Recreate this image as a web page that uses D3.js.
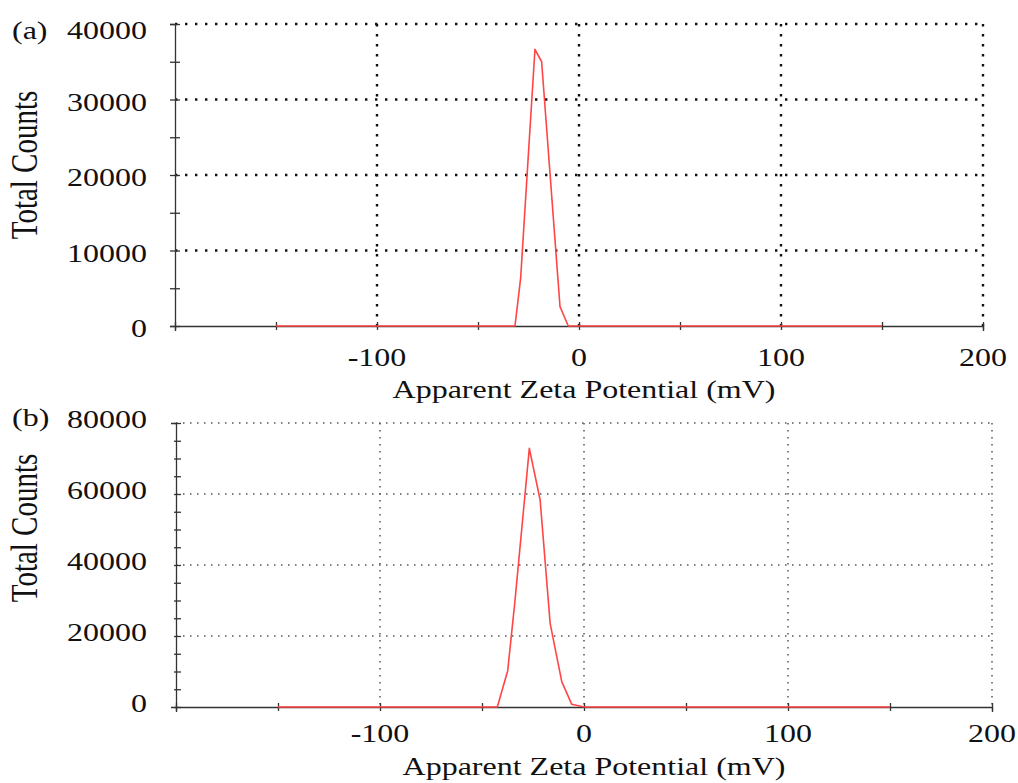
<!DOCTYPE html>
<html lang="en">
<head>
	<meta charset="UTF-8">
	<title>Zeta potential</title>
	<script src="https://d3js.org/d3.v7.min.js"></script>
	<style>
		body { margin: 0; background: #fff; }
		text { font-family: "Liberation Serif", "Times New Roman", serif; fill: #111; }
	</style>
</head>
<body>
	<div class="box"></div>

	<script type="text/javascript">
		// data
		let panelLabels = ['(a)', '(b)']
		let zetaA = [-150, -31.7, -28.9, -21.8, -18.5, -9.4, -5.3, 150]
		let countsA = [0, 0, 6300, 36650, 35000, 2560, 0, 0]
		let zetaB = [-150, -42.5, -37.4, -33.8, -26.8, -21.5, -16.6, -10.9, -6.0, 0, 150]
		let countsB = [0, 0, 10230, 30100, 72870, 58300, 23580, 7130, 760, 0, 0]
		let xTickValues = [-200, -150, -100, -50, 0, 50, 100, 150, 200]
		let xTickLabels = [-100, 0, 100, 200]
		let yTicksA = [0, 10000, 20000, 30000, 40000]
		let yTicksB = [0, 20000, 40000, 60000, 80000]
		let xTitle = 'Apparent Zeta Potential (mV)'
		let yTitle = 'Total Counts'

		let width = 1018
		let height = 783
		let sx = 1.28   // the picture is stretched sideways
		let svg = d3.select('.box').append('svg').attr('width', width).attr('height', height)

		let panels = [
			{ zeta: zetaA, counts: countsA, yTicks: yTicksA, minor: 5000,
				left: 175, right: 983, top: 24, bottom: 326,
				grid: { w: 2.4, dash: '2.4,7.6', color: '#111' }, cross: true,
				yLabDy: 11, xLabY: 366, titleX: 584, titleY: 398, yTitleY: 165, labY: 39 },
			{ zeta: zetaB, counts: countsB, yTicks: yTicksB, minor: 5000,
				left: 176, right: 992, top: 423, bottom: 707,
				grid: { w: 1.5, dash: '1.5,5.5', color: '#555' }, cross: false,
				yLabDy: 5, xLabY: 742, titleX: 594, titleY: 775, yTitleY: 528, labY: 426 }
		]

		function stretched (sel, x, y, rot) {
			return sel.attr('transform', `translate(${x},${y}) scale(${sx},1)` + (rot ? ` rotate(${rot})` : ''))
		}

		panels.forEach((p, k) => {
			let yMax = d3.max(p.yTicks)
			let x = d3.scaleLinear().domain([-200, 200]).range([p.left, p.right])
			let y = d3.scaleLinear().domain([0, yMax]).range([p.bottom, p.top])
			let g = svg.append('g')

			// dotted grid
			g.selectAll('.hgrid').data(p.yTicks.filter(d => d > 0)).enter().append('line')
				.attr('x1', p.left).attr('x2', p.right)
				.attr('y1', d => y(d)).attr('y2', d => y(d))
				.attr('stroke', p.grid.color).attr('stroke-width', p.grid.w)
				.attr('stroke-dasharray', p.grid.dash)
			g.selectAll('.vgrid').data(xTickLabels).enter().append('line')
				.attr('x1', d => x(d)).attr('x2', d => x(d))
				.attr('y1', p.top).attr('y2', p.bottom)
				.attr('stroke', p.grid.color).attr('stroke-width', p.grid.w)
				.attr('stroke-dasharray', p.grid.dash)

			// axes
			let yMinor = d3.range(0, yMax + 1, p.minor)
			let xAxis = g.append('g').attr('transform', `translate(0,${p.bottom})`)
				.call(d3.axisBottom(x).tickValues(xTickValues).tickFormat('').tickSizeOuter(0).tickSize(5))
			let yAxis = g.append('g').attr('transform', `translate(${p.left},0)`)
				.call(d3.axisLeft(y).tickValues(yMinor).tickFormat('').tickSizeOuter(0).tickSize(5))
			xAxis.selectAll('.tick line').attr('y1', -4).attr('y2', 4)
			yAxis.selectAll('.tick line').attr('x1', p.cross ? -5 : -2).attr('x2', 5)
			g.selectAll('.domain, .tick line').attr('stroke', '#333').attr('stroke-width', 1.3)

			// curve
			let pts = p.zeta.map((z, i) => [z, p.counts[i]])
			g.append('path').datum(pts)
				.attr('fill', 'none').attr('stroke', '#ff4545').attr('stroke-width', 1.6)
				.attr('stroke-linejoin', 'round')
				.attr('d', d3.line().x(d => x(d[0])).y(d => y(d[1])))

			// tick labels
			g.selectAll('.ylab').data(p.yTicks).enter().append('text')
				.attr('font-size', 25).attr('text-anchor', 'end')
				.each(function (d) {
					let dy = p.yLabDy + (k === 0 && d === yMax ? 4 : 0)
					stretched(d3.select(this), 147, y(d) + dy)
				})
				.text(d => d)
			g.selectAll('.xlab').data(xTickLabels).enter().append('text')
				.attr('font-size', 25).attr('text-anchor', 'middle')
				.each(function (d) { stretched(d3.select(this), x(d), p.xLabY) })
				.text(d => d)

			// titles
			stretched(g.append('text'), p.titleX, p.titleY)
				.attr('font-size', 25).attr('text-anchor', 'middle').text(xTitle)
			stretched(g.append('text'), 37, p.yTitleY, -90)
				.attr('font-size', 29).attr('text-anchor', 'middle').text(yTitle)
			stretched(g.append('text'), 12, p.labY)
				.attr('font-size', 25).text(panelLabels[k])
		})
	</script>
</body>
</html>
